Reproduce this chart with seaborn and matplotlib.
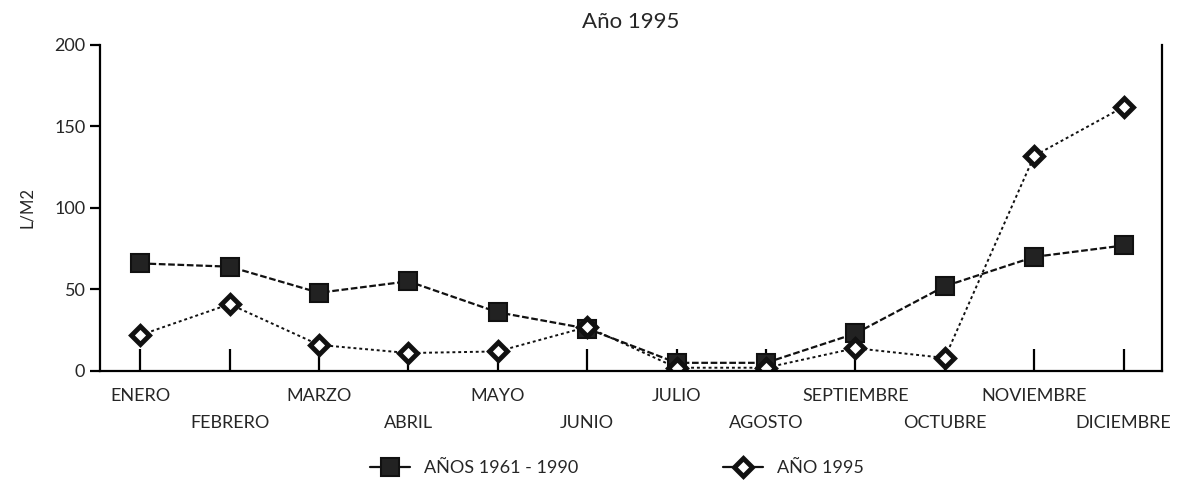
import pandas as pd
import matplotlib.pyplot as plt
import seaborn as sns
from matplotlib.lines import Line2D

meses = ['ENERO', 'FEBRERO', 'MARZO', 'ABRIL', 'MAYO', 'JUNIO', 'JULIO',
         'AGOSTO', 'SEPTIEMBRE', 'OCTUBRE', 'NOVIEMBRE', 'DICIEMBRE']
media_61_90 = [66, 64, 48, 55, 36, 26, 5, 5, 23, 52, 70, 77]
anio_1995 = [22, 41, 16, 11, 12, 27, 2, 2, 14, 8, 132, 162]
serie_labels = ['AÑOS 1961 - 1990', 'AÑO 1995']

df = pd.DataFrame({
    'idx': list(range(len(meses))) * 2,
    'valor': media_61_90 + anio_1995,
    'serie': [serie_labels[0]] * len(meses) + [serie_labels[1]] * len(meses),
})

sns.set_style('white')
plt.rcParams['font.family'] = ['Lato', 'DejaVu Sans']

fig = plt.figure(figsize=(11.87, 4.88), dpi=100)
ax = fig.add_axes([0.0842, 0.2398, 0.8948, 0.668])

sq_style = dict(marker='s', markersize=13, markerfacecolor='#222222',
                markeredgecolor='#111111', markeredgewidth=1.5)
di_style = dict(marker='D', markersize=9, markerfacecolor='white',
                markeredgecolor='#111111', markeredgewidth=3.5)

sns.lineplot(data=df[df.serie == serie_labels[0]], x='idx', y='valor', ax=ax,
             color='#111111', linewidth=1.6, linestyle=(0, (3, 1.2)),
             legend=False, **sq_style)
sns.lineplot(data=df[df.serie == serie_labels[1]], x='idx', y='valor', ax=ax,
             color='#111111', linewidth=1.4, linestyle=(0, (1.5, 1.5)),
             legend=False, **di_style)

ax.set_xlim(-0.45, 11.43)
ax.set_ylim(0, 200)
ax.set_yticks([0, 50, 100, 150, 200])
ax.set_xticks(range(len(meses)))
ax.set_xticklabels(meses, fontsize=13)
ax.tick_params(axis='x', bottom=True, direction='in', length=16, width=1.6, color='black')
ax.tick_params(axis='y', left=True, direction='out', length=7, width=1.6, labelsize=13, color='black')
for i, t in enumerate(ax.xaxis.get_major_ticks()):
    t.set_pad(32 if i % 2 else 12)

for s in ['left', 'bottom', 'right']:
    ax.spines[s].set_color('black')
    ax.spines[s].set_linewidth(1.6)
ax.spines['top'].set_visible(False)

ax.set_xlabel('')
ax.set_ylabel('L/M2', fontsize=12, labelpad=14)
ax.set_title('Año 1995', fontsize=16, pad=12)

h = [Line2D([], [], color='#111111', linewidth=1.6, **sq_style),
     Line2D([], [], color='#111111', linewidth=1.6, **di_style)]
fig.legend(h, serie_labels, loc='center', bbox_to_anchor=(0.52, 0.04), ncol=2,
           frameon=False, fontsize=13, columnspacing=8, handlelength=2.2)

fig.savefig('out.png', dpi=100)
